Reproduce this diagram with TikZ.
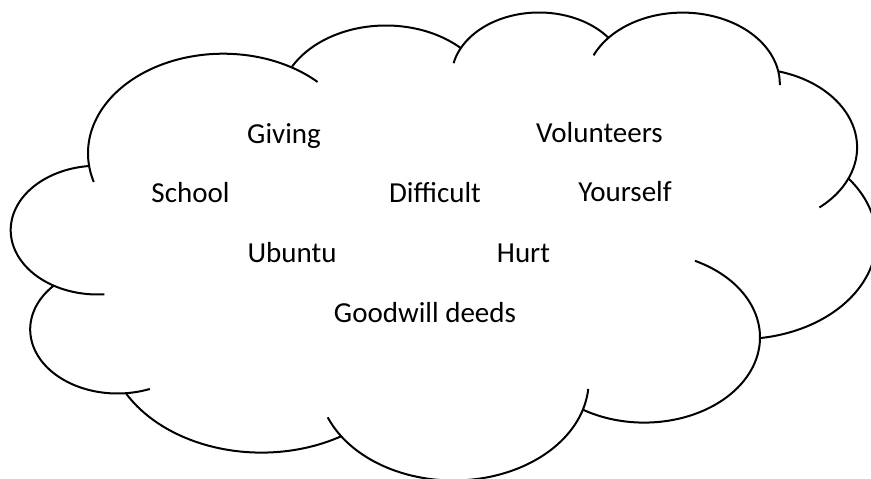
\documentclass[tikz,border=0pt]{standalone}
\usepackage{fontspec}
\setmainfont{Carlito}
\tikzset{
  cloudline/.style={draw=black, line width=2pt, line join=round},
  word/.style={inner sep=0pt, anchor=base, text=black, font=\fontsize{29pt}{35pt}\selectfont}
}
\begin{document}
\begin{tikzpicture}[x=1pt, y=-1pt]
\useasboundingbox (0,0) rectangle (871,479);
\fill[white] (0,0) rectangle (871,479);
\clip (0,0) rectangle (871,479);
% cloud lobes: centre x/centre y/x radius/y radius/start/end (parametric angles, y downward)
\foreach \cx/\cy/\rx/\ry/\a/\b in {
  223.2/153.2/135.2/99.5/-196.81/-45.74,
  385.9/104.2/106.8/78.7/-152.04/-45.45,
  539.0/76.9/87.4/64.4/-167.72/-37.35,
  682.6/84.0/97.2/71.4/-156.29/0.82,
  750.3/147.4/106.8/78.8/-74.77/49.66,
  740.8/239.2/135.6/99.9/-37.52/81.86,
  644.2/337.4/115.8/85.2/-63.98/121.97,
  453.5/380.7/135.2/99.8/4.74/158.47,
  261.5/338.4/154.6/114.2/58.98/151.0,
  117.5/329.4/87.3/64.1/68.24/223.08,
  97.7/230.1/87.0/64.4/85.55/264.11}
{
  \draw[cloudline] plot[domain=\a:\b, samples=90, variable=\t, smooth]
    ({\cx+\rx*cos(\t)},{\cy+\ry*sin(\t)});
}
\node[word] (giving) at (284,143) {Giving};
\node[word] (volunteers) at (599.5,142) {Volunteers};
\node[word] (school) at (190.5,202) {School};
\node[word] (difficult) at (435,202) {Difficult};
\node[word] (yourself) at (625,201) {Yourself};
\node[word] (ubuntu) at (292,262) {Ubuntu};
\node[word] (hurt) at (523.5,262) {Hurt};
\node[word] (goodwill) at (425,322) {Goodwill deeds};
\end{tikzpicture}
\end{document}
